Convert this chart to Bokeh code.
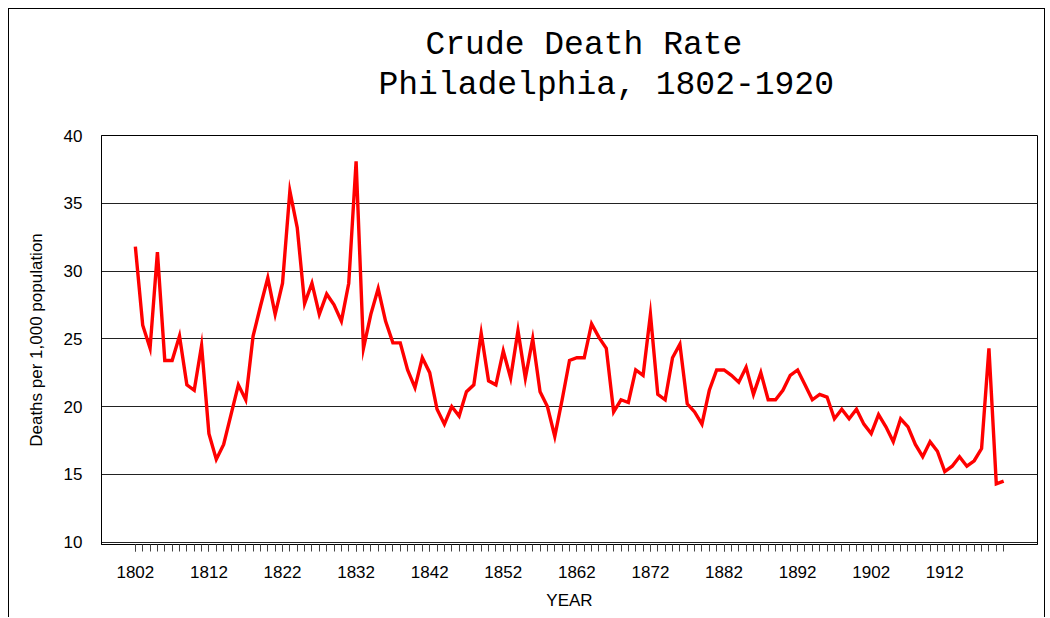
from bokeh.plotting import figure
from bokeh.models import Range1d, FixedTicker, Title
from bokeh.embed import file_html
from bokeh.resources import INLINE

years = list(range(1802, 1921))
death_rate = [
    31.8, 26.0, 24.3, 31.4, 23.4, 23.4, 25.2, 21.6, 21.2, 24.5,   # 1802-1811
    18.0, 16.1, 17.2, 19.4, 21.6, 20.5, 25.2, 27.4, 29.5, 26.8,   # 1812-1821
    29.1, 35.9, 33.2, 27.6, 29.1, 26.8, 28.3, 27.5, 26.3, 29.1,   # 1822-1831
    38.1, 24.3, 26.8, 28.7, 26.3, 24.7, 24.7, 22.7, 21.4, 23.6,   # 1832-1841
    22.5, 19.8, 18.7, 20.0, 19.3, 21.1, 21.6, 25.4, 21.9, 21.6,   # 1842-1851
    24.1, 22.1, 25.6, 22.1, 25.0, 21.1, 20.0, 17.8, 20.5, 23.4,   # 1852-1861
    23.6, 23.6, 26.1, 25.1, 24.3, 19.6, 20.5, 20.3, 22.7, 22.3,   # 1862-1871
    26.8, 20.9, 20.5, 23.6, 24.6, 20.2, 19.6, 18.7, 21.2, 22.7,   # 1872-1881
    22.7, 22.3, 21.8, 22.9, 20.9, 22.5, 20.5, 20.5, 21.2, 22.3,   # 1882-1891
    22.7, 21.6, 20.5, 20.9, 20.7, 19.1, 19.8, 19.1, 19.8, 18.7,   # 1892-1901
    18.0, 19.4, 18.5, 17.4, 19.1, 18.5, 17.2, 16.3, 17.4, 16.7,   # 1902-1911
    15.2, 15.6, 16.3, 15.6, 16.0, 16.9, 24.3, 14.3, 14.5,         # 1912-1920
]
label_years = list(range(1802, 1913, 10))
y_ticks = [10, 15, 20, 25, 30, 35, 40]

title_line1 = "Crude Death Rate"
title_line2 = "Philadelphia, 1802-1920"
y_label = "Deaths per 1,000 population"
x_label = "YEAR"

p = figure(width=1037, height=609, output_backend="svg", toolbar_location=None,
           x_range=Range1d(1797.4, 1924.6), y_range=Range1d(9.82, 40),
           min_border_left=92, min_border_top=126, min_border_right=9,
           min_border_bottom=74)
p.styles = {"border-top": "1px solid black", "border-left": "1px solid black",
            "border-right": "1px solid black", "margin": "8px 0 0 8px"}
p.background_fill_color = "white"
p.border_fill_color = "white"
p.outline_line_color = "black"
p.outline_line_width = 1

p.line(years, death_rate, line_color="#ff0000", line_width=3.4, line_join="miter")

# grids
p.xgrid.visible = False
p.ygrid.ticker = FixedTicker(ticks=y_ticks)
p.ygrid.grid_line_color = "#222222"
p.ygrid.grid_line_width = 1

# y axis
yax = p.yaxis[0]
yax.ticker = FixedTicker(ticks=y_ticks)
yax.major_tick_out = 0
yax.major_tick_in = 0
yax.minor_tick_out = 0
yax.minor_tick_in = 0
yax.axis_line_color = "black"
yax.major_label_standoff = 19
yax.major_label_text_font = "Liberation Sans"
yax.major_label_text_font_size = "17px"
yax.major_label_text_color = "black"
yax.axis_label = y_label
yax.axis_label_text_font = "Liberation Sans"
yax.axis_label_text_font_size = "17px"
yax.axis_label_text_font_style = "normal"
yax.axis_label_text_color = "black"
yax.axis_label_standoff = 15

# x axis
xax = p.xaxis[0]
xax.ticker = FixedTicker(ticks=label_years, minor_ticks=years)
xax.major_tick_out = 7
xax.major_tick_in = 0
xax.minor_tick_out = 7
xax.minor_tick_in = 0
xax.major_tick_line_color = "#444444"
xax.minor_tick_line_color = "#444444"
xax.axis_line_color = "black"
xax.major_label_standoff = 14
xax.major_label_text_font = "Liberation Sans"
xax.major_label_text_font_size = "17px"
xax.major_label_text_color = "black"
xax.axis_label = x_label
xax.axis_label_text_font = "Liberation Sans"
xax.axis_label_text_font_size = "17px"
xax.axis_label_text_font_style = "normal"
xax.axis_label_text_color = "black"
xax.axis_label_standoff = 10

# spacer between the frame and the two-line title
p.add_layout(Title(text=" ", standoff=29, text_font_size="1px"), "above")
# two-line title (second line added first: it sits nearest the frame)
p.add_layout(Title(text=title_line2, align="left", offset=277, standoff=0,
                   text_font="Liberation Mono", text_font_size="33px",
                   text_font_style="normal", text_color="black"), "above")
p.add_layout(Title(text=title_line1, align="left", offset=324, standoff=2,
                   text_font="Liberation Mono", text_font_size="33px",
                   text_font_style="normal", text_color="black"), "above")

open("out.html", "w").write(file_html(p, INLINE))
